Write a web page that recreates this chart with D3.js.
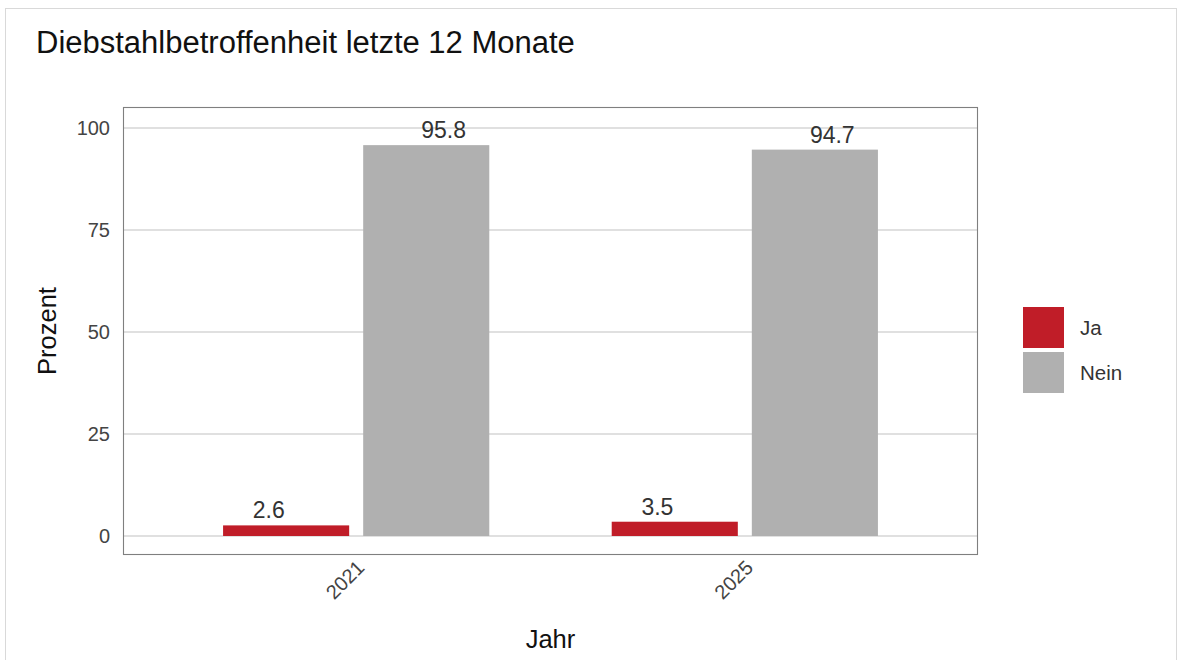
<!DOCTYPE html>
<html>
<head>
<meta charset="utf-8">
<script src="https://cdn.jsdelivr.net/npm/d3@7"></script>
<style>
  body { margin: 0; background: #fff; }
  text { font-family: "Liberation Sans", Arial, sans-serif; }
</style>
</head>
<body>
<svg width="1178" height="660"></svg>
<script>
const years = ["2021", "2025"]
const answers = ["Ja", "Nein"]
const jaValues = [2.6, 3.5]
const neinValues = [95.8, 94.7]
const yTicks = [0, 25, 50, 75, 100]
const colors = ["#C01D28", "#B0B0B0"]

const rows = []
years.forEach(function(y, i) {
    rows.push({ year: y, answer: "Ja", value: jaValues[i] })
    rows.push({ year: y, answer: "Nein", value: neinValues[i] })
})

const panel = { left: 123, right: 978, top: 107, bottom: 555 }

const svg = d3.select("svg")

// outer frame
svg.append("rect")
    .attr("x", 5.5).attr("y", 8.5)
    .attr("width", 1171).attr("height", 660)
    .attr("fill", "none")
    .attr("stroke", "#d9d9d9")

svg.append("text")
    .attr("x", 36).attr("y", 53)
    .attr("font-size", 31)
    .attr("fill", "#111")
    .text("Diebstahlbetroffenheit letzte 12 Monate")

let x = d3.scalePoint()
    .domain(years)
    .range([panel.left, panel.right])
    .padding(0.6)

// bars dodge over 0.7 of a step, labels over 0.9 (as in the original)
let xInner = d3.scaleBand()
    .domain(answers)
    .range([-x.step() * 0.3425, x.step() * 0.3425])
    .paddingInner(0.1)

let xLabel = d3.scaleBand()
    .domain(answers)
    .range([-x.step() * 0.45, x.step() * 0.45])

let y = d3.scaleLinear()
    .domain([-4.657, 105.147])
    .range([panel.bottom, panel.top])

let color = d3.scaleOrdinal().domain(answers).range(colors)

// grid
svg.append("g")
    .selectAll("line")
    .data(yTicks)
    .enter()
    .append("line")
    .attr("x1", panel.left).attr("x2", panel.right)
    .attr("y1", function(d) { return y(d) })
    .attr("y2", function(d) { return y(d) })
    .attr("stroke", "#d6d6d6")
    .attr("stroke-width", 1.3)

// bars
svg.append("g")
    .selectAll("rect")
    .data(rows)
    .enter()
    .append("rect")
    .attr("x", function(d) { return x(d.year) + xInner(d.answer) })
    .attr("width", xInner.bandwidth())
    .attr("y", function(d) { return y(d.value) })
    .attr("height", function(d) { return y(0) - y(d.value) })
    .attr("fill", function(d) { return color(d.answer) })

// value labels
svg.append("g")
    .selectAll("text")
    .data(rows)
    .enter()
    .append("text")
    .attr("x", function(d) { return x(d.year) + xLabel(d.answer) + xLabel.bandwidth() / 2 })
    .attr("y", function(d) { return y(d.value) - 7 })
    .attr("text-anchor", "middle")
    .attr("font-size", 23)
    .attr("fill", "#333")
    .text(function(d) { return d.value.toFixed(1) })

// panel border
svg.append("rect")
    .attr("x", panel.left + 0.5).attr("y", panel.top + 0.5)
    .attr("width", panel.right - panel.left - 1)
    .attr("height", panel.bottom - panel.top - 1)
    .attr("fill", "none")
    .attr("stroke", "#7f7f7f")
    .attr("stroke-width", 1.1)

// y axis
let yAxis = svg.append("g")
    .attr("transform", "translate(" + panel.left + ",0)")
    .call(d3.axisLeft(y).tickValues(yTicks).tickSize(0).tickPadding(13))
yAxis.select(".domain").remove()
yAxis.selectAll("text")
    .attr("font-size", 20)
    .attr("fill", "#444")
    .attr("font-family", "Liberation Sans, Arial, sans-serif")

// x axis
let xAxis = svg.append("g")
    .attr("transform", "translate(0," + panel.bottom + ")")
    .call(d3.axisBottom(x).tickSize(0).tickPadding(0))
xAxis.select(".domain").remove()
xAxis.selectAll("text")
    .attr("font-size", 20)
    .attr("fill", "#444")
    .attr("font-family", "Liberation Sans, Arial, sans-serif")
    .attr("text-anchor", "end")
    .attr("dy", 0)
    .attr("transform", "translate(9,14) rotate(-45)")

svg.append("text")
    .attr("x", (panel.left + panel.right) / 2).attr("y", 648)
    .attr("text-anchor", "middle")
    .attr("font-size", 25.5)
    .attr("fill", "#111")
    .text("Jahr")

svg.append("text")
    .attr("transform", "translate(56," + (panel.top + panel.bottom) / 2 + ") rotate(-90)")
    .attr("text-anchor", "middle")
    .attr("font-size", 25.5)
    .attr("fill", "#111")
    .text("Prozent")

// legend
let legend = svg.append("g")
    .selectAll("g")
    .data(answers)
    .enter()
    .append("g")
    .attr("transform", function(d, i) { return "translate(1023," + (307 + i * 45) + ")" })
legend.append("rect")
    .attr("width", 41).attr("height", 41)
    .attr("fill", function(d) { return color(d) })
legend.append("text")
    .attr("x", 57).attr("y", 28)
    .attr("font-size", 20.5)
    .attr("fill", "#333")
    .text(function(d) { return d })
</script>
</body>
</html>
